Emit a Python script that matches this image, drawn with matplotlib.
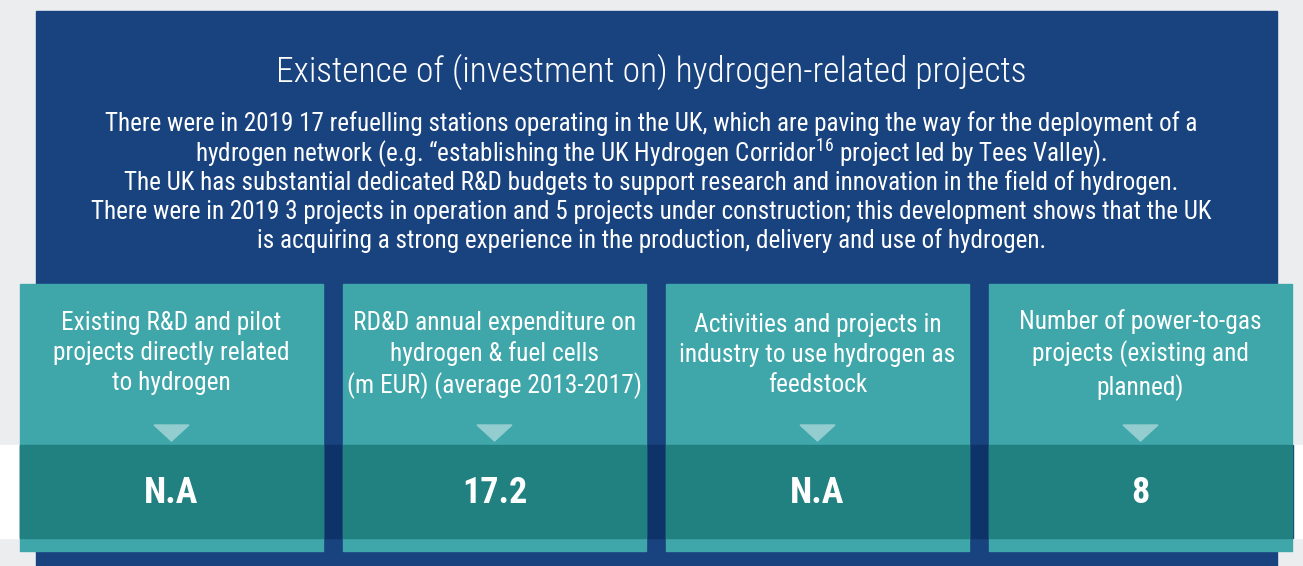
import matplotlib.pyplot as plt
from matplotlib.patches import Rectangle, Polygon

plt.rcParams['font.family'] = ['Roboto Condensed', 'Archivo Narrow', 'DejaVu Sans']
plt.rcParams['mathtext.fontset'] = 'custom'
plt.rcParams['mathtext.rm'] = 'Roboto Condensed'

# text content
title = "Existence of (investment on) hydrogen-related projects"
body_lines = [
    "There were in 2019 17 refuelling stations operating in the UK, which are paving the way for the deployment of a",
    r"hydrogen network (e.g. “establishing the UK Hydrogen Corridor$^{\mathrm{16}}$ project led by Tees Valley).",
    "The UK has substantial dedicated R&D budgets to support research and innovation in the field of hydrogen.",
    "There were in 2019 3 projects in operation and 5 projects under construction; this development shows that the UK",
    "is acquiring a strong experience in the production, delivery and use of hydrogen.",
]
card_labels = [
    "Existing R&D and pilot\nprojects directly related\nto hydrogen",
    "RD&D annual expenditure on\nhydrogen & fuel cells\n(m EUR) (average 2013-2017)",
    "Activities and projects in\nindustry to use hydrogen as\nfeedstock",
    "Number of power-to-gas\nprojects (existing and\nplanned)",
]
card_values = ["N.A", "17.2", "N.A", "8"]

gray = '#ECEDEF'
navy = '#19437F'
teal = '#3FA6AA'
teal_dark = '#218180'
navy_dark = '#0D3369'
tri_col = '#93CDCF'

W, H = 1303, 566
fig = plt.figure(figsize=(W / 100, H / 100), dpi=100)
ax = fig.add_axes([0, 0, 1, 1])
ax.set_xlim(0, W)
ax.set_ylim(H, 0)
ax.axis('off')

# background
ax.add_patch(Rectangle((0, 0), W, H, color=gray, zorder=0))
ax.add_patch(Rectangle((0, 445), W, 93, color='white', zorder=0))
ax.add_patch(Rectangle((36, 11), 1241, H - 11, color=navy, zorder=1))

# header text
ax.text(W / 2, 72, title, ha='center', va='center', color='white', fontsize=25.5,
        fontweight='light', zorder=5)
for i, line in enumerate(body_lines):
    ax.text(W / 2, 124 + i * 29.2, line, ha='center', va='center', color='white',
            fontsize=18.1, zorder=5)

# dark band behind cards
ax.add_patch(Rectangle((20, 445), 1273, 93, color=navy_dark, zorder=2))

card_w = 303
gap = 20
for i, (lab, val) in enumerate(zip(card_labels, card_values)):
    x0 = 20 + i * (card_w + gap)
    cx = x0 + card_w / 2
    ax.add_patch(Rectangle((x0, 284), card_w, 267, color=teal, zorder=3))
    ax.add_patch(Rectangle((x0, 445), card_w, 93, color=teal_dark, zorder=4))
    ax.add_patch(Polygon([[cx - 17.5, 425], [cx + 17.5, 425], [cx, 441]],
                         closed=True, color=tri_col, zorder=4))
    ax.text(cx, 353 if i == 0 else 355, lab, ha='center', va='center', color='white',
            fontsize=18.3, linespacing=1.3, zorder=5)
    ax.text(cx, 493, val, ha='center', va='center', color='white', fontsize=26,
            fontweight='bold', zorder=5)

fig.savefig('out.png', dpi=100)
